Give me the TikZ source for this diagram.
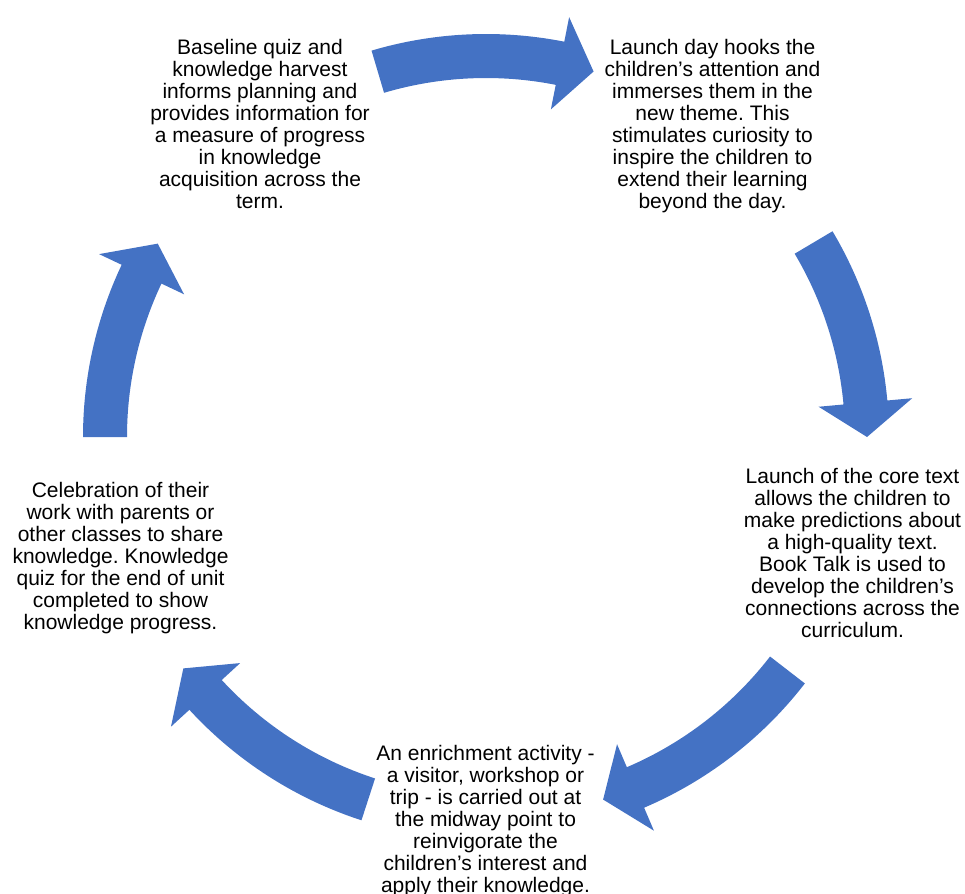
\documentclass[tikz,border=0pt]{standalone}
\usepackage{fontspec}
\setmainfont{Liberation Sans}
\frenchspacing
\definecolor{cycblue}{HTML}{4472C4}
\newcommand{\celltext}[1]{\begin{tabular}[t]{@{}c@{}}#1\end{tabular}}
% tail angle, tip angle (clockwise arrows around the centre)
\newcommand{\cycarrow}[2]{%
  \fill[cycarrowstyle]
    (#1:403pt) arc[start angle=#1, end angle=#2+5.2, radius=403pt]
    -- (#2+5.2:428pt) -- (#2:381pt) -- (#2+5.2:334pt) -- (#2+5.2:359pt)
    arc[start angle=#2+5.2, end angle=#1, radius=359pt] -- cycle;}
\tikzset{
  cycarrowstyle/.style={fill=cycblue},
  txt/.style={inner sep=0pt, anchor=base, font=\fontsize{21}{22}\selectfont}
}
\begin{document}
\begin{tikzpicture}[x=1pt,y=1pt]
\useasboundingbox (0,0) rectangle (965,-893);
\begin{scope}[shift={(486,-437)}]
  \cycarrow{106.5}{73.6}
  \cycarrow{30.7}{0}
  \cycarrow{-37.7}{-72.1}
  \cycarrow{-108}{-142.6}
  \cycarrow{180}{149.5}
\end{scope}
\node[txt] (t1) at (260,-55) {\celltext{Baseline quiz and\\knowledge harvest\\informs planning and\\provides information for\\a measure of progress\\in knowledge\\acquisition across the\\term.}};
\node[txt] (t2) at (712.5,-55) {\celltext{Launch day hooks the\\children’s attention and\\immerses them in the\\new theme. This\\stimulates curiosity to\\inspire the children to\\extend their learning\\beyond the day.}};
\node[txt] (t3) at (852.5,-483) {\celltext{Launch of the core text\\allows the children to\\make predictions about\\a high-quality text.\\Book Talk is used to\\develop the children’s\\connections across the\\curriculum.}};
\node[txt] (t4) at (485.5,-760) {\celltext{An enrichment activity -\\a visitor, workshop or\\trip - is carried out at\\the midway point to\\reinvigorate the\\children’s interest and\\apply their knowledge.}};
\node[txt] (t5) at (120.5,-497) {\celltext{Celebration of their\\work with parents or\\other classes to share\\knowledge. Knowledge\\quiz for the end of unit\\completed to show\\knowledge progress.}};
\end{tikzpicture}
\end{document}
